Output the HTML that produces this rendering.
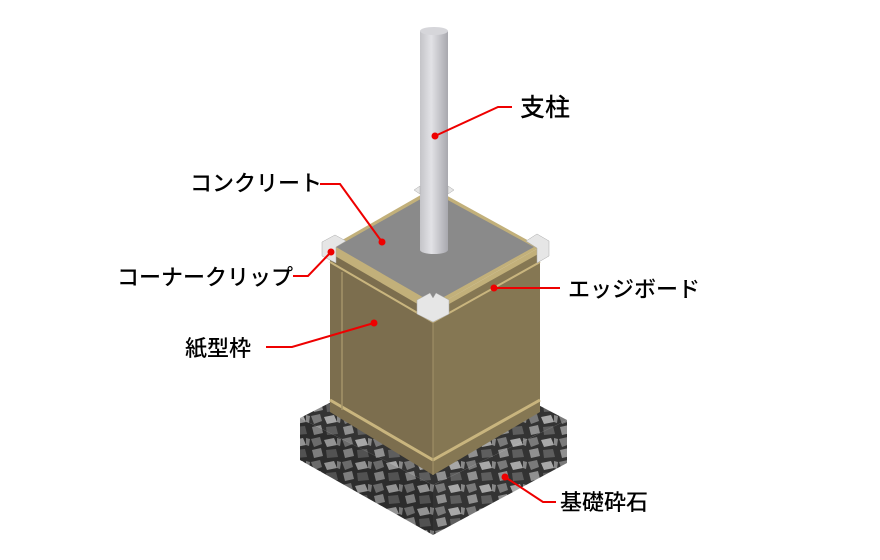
<!DOCTYPE html>
<html><head><meta charset="utf-8"><style>
html,body{margin:0;padding:0;background:#fff;}
svg{display:block}
text{font-family:"Liberation Sans","Noto Sans CJK JP",sans-serif;font-size:22px;fill:#000;font-weight:500}
</style></head><body>
<svg width="880" height="560" viewBox="0 0 880 560" xmlns="http://www.w3.org/2000/svg">
<defs>
<pattern id="grav" width="31" height="23" patternUnits="userSpaceOnUse">
<rect width="31" height="23" fill="#333"/>
<polygon points="1,2 10,0 12,7 4,10" fill="#7a7a7a"/>
<polygon points="14,3 24,1 27,8 17,10" fill="#a8a8a8"/>
<polygon points="2,13 11,11 13,19 4,21" fill="#909090"/>
<polygon points="16,13 26,12 28,20 17,21" fill="#5e5e5e"/>
<polygon points="27,1 31,2 30,9 27,8" fill="#888"/>
</pattern>
<linearGradient id="pole" x1="0" x2="1">
<stop offset="0" stop-color="#c4c4c8"/><stop offset="0.4" stop-color="#e2e2e6"/><stop offset="1" stop-color="#a8a8ae"/>
</linearGradient>
</defs>
<polygon points="300,418 433,350 567,420 433,485" fill="url(#grav)"/>
<polygon points="300,418 433,485 433,535 300,460" fill="url(#grav)"/>
<polygon points="433,485 567,420 567,463 433,535" fill="url(#grav)"/>
<polygon points="300,418 433,485 433,535 300,460" fill="#000" opacity="0.12"/>
<polygon points="330,248 433,308 433,475 330,412" fill="#7c6e4e"/>
<polygon points="433,308 540,248 540,412 433,475" fill="#857753"/>
<line x1="330" y1="262" x2="433" y2="322" stroke="#c9b57e" stroke-width="2"/>
<line x1="433" y1="322" x2="540" y2="262" stroke="#c9b57e" stroke-width="2"/>
<line x1="330" y1="400" x2="433" y2="460" stroke="#c9b57e" stroke-width="3"/>
<line x1="433" y1="460" x2="540" y2="400" stroke="#c9b57e" stroke-width="3"/>
<line x1="342" y1="272" x2="342" y2="410" stroke="#a39368" stroke-width="1.5"/>
<line x1="433" y1="308" x2="433" y2="475" stroke="#a39368" stroke-width="1"/>
<polygon points="330,247 433,188 540,247 433,308 433,313 330,253" fill="#c2b07a"/>
<polygon points="433,308 540,247 540,253 433,313" fill="#c2b07a"/>
<polygon points="336,247 433,192 534,247 433,303" fill="#8a8a8a"/>
<rect x="420" y="31" width="28" height="219" fill="url(#pole)"/>
<ellipse cx="434" cy="250" rx="14" ry="4" fill="url(#pole)"/>
<ellipse cx="434" cy="31" rx="14" ry="4" fill="#d6d6da"/>
<g fill="#e6e6e6" stroke="#aaa" stroke-width="0.5">
<polygon points="322,242 335,235 346,241 336,247 336,263 322,256"/>
<polygon points="417,300 430,293 433,298 436,293 449,300 449,314 433,322 417,314"/>
<polygon points="526,241 537,234 549,241 549,256 537,263 537,248"/>
<polygon points="414,190 420,186 420,194"/>
<polygon points="448,186 454,190 448,194"/>
</g>
<g stroke="#e00" stroke-width="2" fill="none">
<polyline points="435,136 498,107 512,107"/>
<polyline points="320,184 340,184 382,242"/>
<polyline points="293,276 308,276 331,252"/>
<polyline points="494,288 560,288"/>
<polyline points="266,347 292,347 374,323"/>
<polyline points="505,477 543,502 556,502"/>
</g>
<g fill="#e00">
<circle cx="435" cy="136" r="3.5"/><circle cx="382" cy="242" r="3.5"/><circle cx="331" cy="252" r="3.5"/>
<circle cx="494" cy="288" r="3.5"/><circle cx="374" cy="323" r="3.5"/><circle cx="505" cy="477" r="3.5"/>
</g>
<text x="520" y="116" style="font-size:25px">支柱</text>
<text x="190" y="191">コンクリート</text>
<text x="117" y="285">コーナークリップ</text>
<text x="568" y="297">エッジボード</text>
<text x="185" y="356">紙型枠</text>
<text x="560" y="510">基礎砕石</text>
</svg>
</body></html>
